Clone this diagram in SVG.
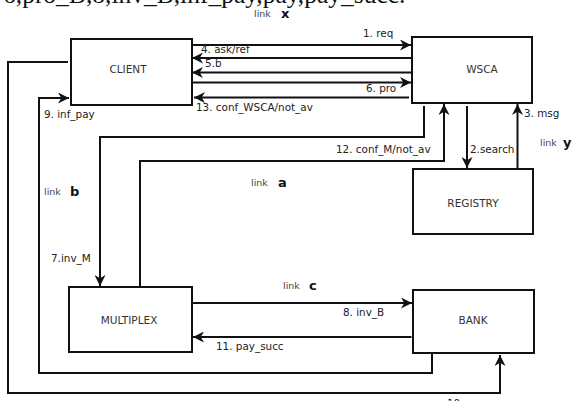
<svg xmlns="http://www.w3.org/2000/svg" width="573" height="401" viewBox="0 0 573 401">
<style>
.box{fill:#fff;stroke:#111;stroke-width:2}
.nl{font-family:"DejaVu Sans",sans-serif;font-size:10.5px;fill:#333;text-anchor:middle;dominant-baseline:central}
.el{font-family:"DejaVu Sans",sans-serif;font-size:10.4px;fill:#222}
.lk{font-family:"DejaVu Sans",sans-serif;font-size:9.5px;fill:#444}
.lb{font-family:"DejaVu Sans",sans-serif;font-size:13px;font-weight:bold;fill:#111}
.c{fill:none;stroke:#111;stroke-width:2;marker-end:url(#ah)}
</style>
<defs>
<marker id="ah" viewBox="0 0 10 10" refX="10" refY="5" markerWidth="11" markerHeight="11" markerUnits="userSpaceOnUse" orient="auto">
<path d="M0,0 L10,5 L0,10 L3,5 z" fill="#111"/>
</marker>
</defs>
<rect width="573" height="401" fill="#fff"/>
<text x="3" y="3" font-family="'Liberation Serif',serif" font-size="25.5" fill="#111">6,pro_B,8,inv_B,inf_pay,pay,pay_succ.</text>

<g id="connectors">
<path class="c" d="M193,45 H411"/>
<path class="c" d="M411,58 H192"/>
<path class="c" d="M411,72.5 H192"/>
<path class="c" d="M193,82.5 H411"/>
<path class="c" d="M409,97.5 H194"/>
<path class="c" d="M467,106 V168"/>
<path class="c" d="M517.5,169 V104"/>
<path class="c" d="M424,106 V137 H100 V286"/>
<path class="c" d="M140,287 V161 H444 V104"/>
<path class="c" d="M193,303 H412"/>
<path class="c" d="M411.5,337 H193"/>
<path class="c" d="M432,353 V373 H39 V98 H69"/>
<path class="c" d="M68,62 H8 V393 H500 V355"/>
<text class="el" x="363" y="37">1. req</text>
<text class="el" x="201" y="53">4. ask/ref</text>
<text class="el" x="205" y="67">5.b</text>
<text class="el" x="366" y="92">6. pro</text>
<text class="el" x="196" y="111">13. conf_WSCA/not_av</text>
<text class="el" x="470" y="153">2.search</text>
<text class="el" x="524" y="117">3. msg</text>
<text class="el" x="51" y="262">7.inv_M</text>
<text class="el" x="336" y="153">12. conf_M/not_av</text>
<text class="el" x="343" y="316">8. inv_B</text>
<text class="el" x="216" y="350">11. pay_succ</text>
<text class="el" x="44" y="118">9. inf_pay</text>
<text class="el" x="447" y="407">10. pay</text>
<text class="lk" x="254" y="17">link</text><text class="lb" x="281" y="18">x</text>
<text class="lk" x="540" y="146">link</text><text class="lb" x="563" y="147">y</text>
<text class="lk" x="251" y="186">link</text><text class="lb" x="278" y="187">a</text>
<text class="lk" x="44" y="195">link</text><text class="lb" x="70" y="196">b</text>
<text class="lk" x="283" y="289">link</text><text class="lb" x="309" y="290">c</text>
</g>

<g id="client"><rect class="box" x="71" y="39" width="121" height="66"/><text class="nl" x="128" y="69">CLIENT</text></g>
<g id="wsca"><rect class="box" x="412" y="37" width="120" height="66"/><text class="nl" x="482" y="69">WSCA</text></g>
<g id="registry"><rect class="box" x="413" y="169" width="120" height="65"/><text class="nl" x="473" y="203">REGISTRY</text></g>
<g id="multiplex"><rect class="box" x="69" y="287" width="123" height="65"/><text class="nl" x="129" y="320">MULTIPLEX</text></g>
<g id="bank"><rect class="box" x="413" y="290" width="121" height="63"/><text class="nl" x="473" y="320">BANK</text></g>
</svg>
